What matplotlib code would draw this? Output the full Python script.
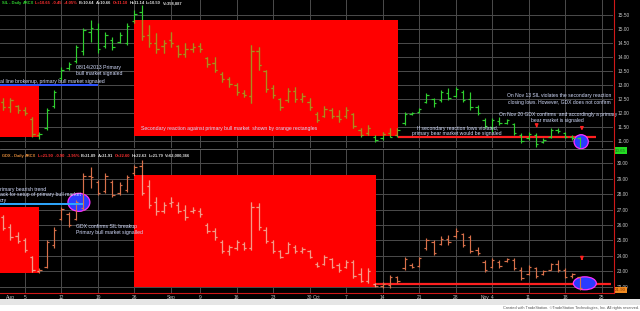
import numpy as np
import matplotlib.pyplot as plt
from matplotlib.patches import Rectangle, Ellipse
from matplotlib.lines import Line2D

plt.rcParams['font.family'] = ['Liberation Sans', 'DejaVu Sans']

# trading day index: 0 = Jul 31 2013 ... 79 = Nov 20 2013
sil_high = [12.54, 12.54, 12.29, 12.21, 11.86, 11.32, 12.18, 12.82, 13.64, 13.82,
            14.43, 15.04, 15.32, 15.21, 14.89, 14.71, 14.89, 15.21, 15.68, 15.86,
            15.14, 14.86, 14.61, 14.89, 14.43, 14.50, 14.50, 14.50, 14.00, 14.00,
            13.46, 13.29, 13.07, 12.82, 14.43, 14.36, 13.54, 13.00, 12.54, 12.89,
            12.93, 12.71, 12.54, 12.04, 12.25, 12.18, 12.11, 12.21, 12.00, 11.46,
            11.57, 11.21, 11.32, 11.46, 11.46, 12.04, 12.04, 12.18, 12.71, 12.54,
            12.82, 12.89, 12.93, 12.82, 12.75, 12.29, 11.82, 11.82, 11.86, 11.79,
            11.64, 11.29, 11.32, 11.29, 11.11, 11.46, 11.46, 11.32, 11.21, 11.14]
sil_low = [12.11, 12.04, 12.00, 11.93, 11.14, 11.07, 11.39, 12.18, 13.18, 13.54,
           13.79, 14.07, 14.54, 14.14, 14.32, 14.25, 14.50, 14.43, 15.21, 14.61,
           14.36, 14.14, 14.14, 14.36, 14.00, 14.00, 14.18, 14.18, 13.64, 13.46,
           13.11, 12.93, 12.64, 12.57, 12.36, 13.54, 12.75, 12.54, 12.11, 12.39,
           12.39, 12.39, 12.11, 11.68, 11.86, 11.82, 11.68, 11.82, 11.46, 11.14,
           11.21, 10.96, 11.04, 11.14, 11.14, 11.57, 11.93, 12.00, 12.36, 12.21,
           12.39, 12.46, 12.57, 12.39, 12.11, 11.93, 11.46, 11.32, 11.57, 11.61,
           11.21, 10.93, 11.04, 10.79, 10.93, 11.11, 11.29, 11.11, 11.04, 10.50]
sil_open = [12.40, 12.20, 12.25, 12.10, 11.80, 11.20, 11.45, 12.25, 13.25, 13.60,
            13.85, 14.20, 14.90, 15.00, 14.40, 14.60, 14.55, 14.50, 15.30, 15.60,
            14.80, 14.50, 14.40, 14.60, 14.40, 14.10, 14.30, 14.40, 13.95, 13.80,
            13.40, 13.20, 13.00, 12.70, 12.60, 14.20, 13.50, 12.90, 12.50, 12.45,
            12.80, 12.50, 12.40, 11.95, 11.90, 12.10, 11.90, 11.90, 11.95, 11.40,
            11.30, 11.15, 11.10, 11.30, 11.20, 11.65, 11.95, 12.05, 12.40, 12.50,
            12.45, 12.70, 12.60, 12.75, 12.50, 12.20, 11.75, 11.50, 11.70, 11.65,
            11.60, 11.20, 11.10, 11.20, 10.95, 11.15, 11.40, 11.30, 11.15, 11.10]
sil_close = [12.20, 12.45, 12.10, 12.00, 11.25, 11.25, 12.10, 12.75, 13.55, 13.75,
             14.35, 14.95, 15.05, 14.30, 14.80, 14.35, 14.80, 15.10, 15.55, 14.75,
             14.50, 14.30, 14.50, 14.50, 14.10, 14.30, 14.35, 14.30, 13.75, 13.55,
             13.20, 13.05, 12.75, 12.65, 14.20, 13.70, 12.85, 12.65, 12.20, 12.80,
             12.50, 12.60, 12.20, 11.75, 12.15, 11.90, 11.80, 12.10, 11.55, 11.20,
             11.45, 11.05, 11.25, 11.14, 11.40, 11.95, 12.00, 12.15, 12.65, 12.35,
             12.75, 12.55, 12.85, 12.45, 12.20, 12.00, 11.55, 11.75, 11.65, 11.75,
             11.30, 11.00, 11.25, 10.90, 11.05, 11.40, 11.35, 11.15, 11.10, 10.65]

gdx_high = [26.65, 26.07, 25.55, 25.16, 23.99, 23.21, 25.03, 25.87, 27.17, 26.84,
            27.62, 29.37, 29.77, 28.92, 29.37, 28.92, 28.79, 29.24, 29.90, 30.22,
            28.92, 27.82, 27.49, 27.82, 27.49, 27.30, 27.17, 27.10, 26.13, 25.81,
            25.03, 24.70, 25.03, 24.90, 27.49, 27.43, 25.87, 25.03, 24.38, 24.90,
            24.70, 24.57, 24.38, 23.60, 24.06, 23.86, 23.54, 23.73, 23.73, 23.21,
            23.21, 22.24, 22.30, 22.76, 22.69, 23.93, 23.54, 23.93, 25.16, 25.03,
            25.29, 25.35, 25.81, 25.48, 25.35, 24.57, 23.73, 23.86, 23.73, 23.86,
            23.86, 23.28, 23.41, 23.28, 23.08, 23.54, 23.73, 23.21, 22.89, 22.63]
gdx_low = [25.68, 25.03, 24.83, 24.25, 22.95, 22.89, 23.21, 24.51, 26.33, 25.87,
           26.33, 26.97, 28.40, 27.95, 28.08, 27.82, 27.95, 28.14, 29.24, 27.95,
           27.10, 26.65, 26.78, 27.17, 26.78, 26.33, 26.78, 26.52, 25.48, 25.03,
           24.19, 24.06, 24.38, 24.38, 24.38, 25.68, 24.83, 24.19, 23.86, 24.19,
           24.19, 24.19, 23.86, 23.28, 23.41, 23.21, 22.95, 23.21, 22.56, 22.30,
           22.24, 21.98, 21.92, 21.92, 22.24, 23.08, 23.21, 23.28, 24.38, 24.06,
           24.70, 24.70, 25.16, 24.57, 24.19, 24.06, 22.95, 23.21, 23.21, 23.60,
           23.08, 22.43, 22.76, 22.56, 22.76, 23.08, 22.95, 22.56, 22.56, 21.79]
gdx_open = [26.50, 25.90, 25.30, 25.00, 23.90, 23.00, 23.30, 24.70, 26.40, 26.70,
            26.40, 27.10, 29.20, 28.80, 28.20, 28.80, 28.10, 28.30, 29.40, 29.80,
            28.50, 27.50, 26.90, 27.40, 27.30, 27.00, 26.90, 26.90, 26.00, 25.60,
            24.90, 24.30, 24.50, 24.80, 24.50, 27.20, 25.70, 24.90, 24.30, 24.20,
            24.60, 24.30, 24.30, 23.50, 23.50, 23.80, 23.40, 23.25, 23.60, 22.80,
            22.40, 22.20, 22.05, 22.10, 22.60, 23.20, 23.40, 23.35, 24.50, 24.90,
            24.80, 25.10, 25.30, 25.40, 25.20, 24.40, 23.60, 23.30, 23.60, 23.65,
            23.75, 23.10, 22.80, 23.20, 22.80, 23.10, 23.50, 23.10, 22.70, 22.60]
gdx_close = [25.80, 25.20, 24.95, 24.40, 23.05, 23.10, 24.90, 25.70, 27.05, 26.00,
             27.50, 29.20, 29.10, 28.10, 29.20, 27.95, 28.60, 29.10, 29.75, 28.10,
             27.30, 26.90, 27.30, 27.50, 26.90, 26.50, 27.00, 26.70, 25.60, 25.20,
             24.30, 24.55, 24.90, 24.50, 27.20, 25.90, 24.95, 24.30, 23.95, 24.80,
             24.30, 24.45, 23.95, 23.35, 23.95, 23.30, 23.05, 23.60, 22.70, 22.40,
             23.00, 22.05, 22.16, 22.60, 22.40, 23.80, 23.30, 23.85, 25.05, 24.20,
             25.10, 24.90, 25.60, 24.70, 24.30, 24.20, 23.10, 23.75, 23.35, 23.80,
             23.20, 22.55, 23.30, 22.70, 23.00, 23.45, 23.05, 22.65, 22.80, 21.90]

week_starts = [3, 8, 13, 18, 23, 27, 32, 37, 42, 47, 52, 57, 62, 67, 72, 77, 82]
date_ticks = [1, 3, 8, 13, 18, 23, 27, 32, 37, 42, 43, 47, 52, 57, 62, 66, 67, 72, 77, 82]
date_labels = ['Aug', '5', '12', '19', '26', 'Sep', '9', '16', '23', '30', 'Oct',
               '7', '14', '21', '28', 'Nov', '4', '11', '18', '25']

sil_ticks = [11.0, 11.5, 12.0, 12.5, 13.0, 13.5, 14.0, 14.5, 15.0, 15.5]
gdx_ticks = [22, 23, 24, 25, 26, 27, 28, 29, 30]

# secondary reaction boxes: (first day, last day, low, high)
sil_boxes = [(-0.6, 4.93, 11.14, 13.0), (17.95, 54.1, 11.18, 15.32)]
gdx_boxes = [(-0.6, 4.93, 22.89, 27.17), (17.95, 51.1, 22.0, 29.24)]
sil_low_close = 11.14
gdx_low_close = 22.16

TXT = '#d4ddff'
GRID = '#4c4c4c'

fig = plt.figure(figsize=(6.4, 3.11), dpi=100, facecolor='black')
ax1 = fig.add_axes([0, 163 / 311, 613 / 640, 148 / 311])
ax2 = fig.add_axes([0, 18 / 311, 613 / 640, 143 / 311])


def draw_panel(ax, o, h, l, c, col, col_box, boxes, ylim, yticks):
    ax.set_facecolor('black')
    ax.set_xlim(-0.41, 83.56)
    ax.set_ylim(*ylim)
    for w in week_starts:
        ax.axvline(w, color=GRID, lw=0.7, zorder=0)
    for t in yticks:
        ax.axhline(t, color=GRID, lw=0.7, zorder=0)
    x = np.arange(len(h))
    rects = []
    for x0, x1, lo, hi in boxes:
        r = Rectangle((x0, lo), x1 - x0, hi - lo, facecolor='#ff0000',
                      edgecolor='none', zorder=1)
        ax.add_patch(r)
        rects.append(r)

    def bars(color, z, clip=None):
        lcs = [ax.vlines(x, l, h, color=color, lw=0.85, zorder=z),
               ax.hlines(o, x - 0.32, x, color=color, lw=0.85, zorder=z),
               ax.hlines(c, x, x + 0.32, color=color, lw=0.85, zorder=z)]
        if clip is not None:
            for lc in lcs:
                lc.set_clip_path(clip)
    bars(col, 4)
    for r in rects:
        bars(col_box, 5, r)
    for s in ax.spines.values():
        s.set_visible(False)
    ax.yaxis.tick_right()
    ax.set_yticks(yticks)
    ax.set_yticklabels([f'{t:.2f}' for t in yticks])
    ax.tick_params(axis='y', length=0, pad=3, labelsize=3.4, labelcolor='#c8c8c8')


draw_panel(ax1, sil_open, sil_high, sil_low, sil_close, '#2fd02f', '#b08a1c',
           sil_boxes, (10.75, 16.036), sil_ticks)
draw_panel(ax2, gdx_open, gdx_high, gdx_low, gdx_close, '#d8704a', '#f49a8a',
           gdx_boxes, (21.59, 30.865), gdx_ticks)

ax1.set_xticks([])
ax2.set_xticks(date_ticks)
ax2.set_xticklabels(date_labels)
ax2.tick_params(axis='x', length=0, pad=1.2, labelsize=3.5, labelcolor='#c8c8c8')


def header(ax, pieces, y):
    t = ax.text(0.003, y, pieces[0][0], color=pieces[0][1], transform=ax.transAxes,
                fontsize=2.9, fontweight='bold', va='top', ha='left', zorder=10)
    for s, col in pieces[1:]:
        t = ax.annotate(s, xy=(1, 0), xycoords=t, xytext=(1.1, 0),
                        textcoords='offset points', color=col, fontsize=2.9,
                        fontweight='bold', va='bottom', ha='left', zorder=10)


def quote(name, o, h, l, c, col, vol):
    chg = c[-1] - c[-2]
    return [(f'{name} - Daily', col), ('ARCX', col),
            (f'L={c[-1]:.2f}  {chg:+.2f}  {chg / c[-2] * 100:+.2f}%', '#ff3030'),
            (f'B={c[-1] - 0.01:.2f}', '#e0e0e0'), (f'A={c[-1] + 0.01:.2f}', '#e0e0e0'),
            (f'O={o[-1]:.2f}', '#ff3030'),
            (f'H={h[-1]:.2f}', '#e0e0e0'), (f'L={l[-1]:.2f}', '#e0e0e0'),
            (f'V={vol}', '#e0e0e0')]


header(ax1, quote('SIL', sil_open, sil_high, sil_low, sil_close, '#2fd02f', '358,887'), 0.99)
header(ax2, quote('GDX', gdx_open, gdx_high, gdx_low, gdx_close, '#e08a3a', '62,000,366'), 0.975)

# last price boxes on the price scale (hang just below the last close)
ax1.text(1.003, sil_close[-1], f'{sil_close[-1]:.2f}', transform=ax1.get_yaxis_transform(),
         fontsize=3.2, color='#206020', va='center', ha='left', clip_on=False, zorder=10,
         bbox=dict(boxstyle='square,pad=0.3', facecolor='#22dd22', edgecolor='none'))
ax2.text(1.003, gdx_close[-1], f'{gdx_close[-1]:.2f}', transform=ax2.get_yaxis_transform(),
         fontsize=3.2, color='#803000', va='top', ha='left', clip_on=False, zorder=10,
         bbox=dict(boxstyle='square,pad=0.25', facecolor='#f08a20', edgecolor='none'))

# closing-low lines of the secondary reaction
ax1.hlines(sil_low_close, 54.1, 81.2, color='#ff2020', lw=1.6, zorder=3)
ax2.hlines(gdx_low_close, 51.1, 83.3, color='#ff2020', lw=1.6, zorder=3)

# breakout lines
ax1.hlines(13.0, -0.5, 13.0, color='#2f55ff', lw=1.4, zorder=6)
ax2.hlines(27.34, -0.5, 10.96, color='#2fa8ff', lw=1.4, zorder=6)

# circles
for ax, cx, cy, w, hh in [(ax1, 79.2, 10.975, 1.95, 0.5),
                          (ax2, 10.4, 27.47, 3.0, 1.17),
                          (ax2, 79.7, 22.22, 3.15, 0.84)]:
    ax.add_patch(Ellipse((cx, cy), w, hh, facecolor='#2a3cff', edgecolor='#ff30ff',
                         lw=0.9, zorder=3, clip_on=False))

# red arrows
arrow = dict(arrowstyle='-|>', color='#ff2020', lw=1.0, mutation_scale=4.5)
ax1.annotate('', xy=(73.1, 11.37), xytext=(73.1, 11.63), arrowprops=arrow, zorder=7)
ax1.annotate('', xy=(79.3, 11.27), xytext=(79.3, 11.58), arrowprops=arrow, zorder=7)
ax2.annotate('', xy=(79.3, 23.52), xytext=(79.3, 24.02), arrowprops=arrow, zorder=7)

fs = 3.7
ax1.text(-0.4, 13.04, 'al line brokenup, primary bull market signaled', color=TXT,
         fontsize=fs, ha='left', va='bottom', zorder=8)
ax1.text(10.0, 13.52, '08/14/2013 Primary\nbull market signaled', color=TXT,
         fontsize=fs, ha='left', va='center', linespacing=1.25, zorder=8)
ax1.text(18.9, 11.46, 'Secondary reaction against primary bull market  shown by orange rectangles',
         color=TXT, fontsize=fs, ha='left', va='center', zorder=8)
ax1.text(62.2, 11.36, 'If secondary reaction lows violated,\nprimary bear market would be signaled',
         color=TXT, fontsize=fs, ha='center', va='center', linespacing=1.1, zorder=8)
ax1.text(76.2, 12.5, 'On Nov 13 SIL violates the secondary reaction\nclosing lows. However, GDX does not confirm',
         color=TXT, fontsize=3.6, ha='center', va='center', linespacing=1.5, zorder=8)
ax1.text(76.0, 11.84, 'On Nov 20 GDX confirms  and accordingly a primary\nbear market is signaled',
         color=TXT, fontsize=3.6, ha='center', va='center', linespacing=1.25, zorder=8)

ax2.text(-0.4, 27.95, 'rimary bearish trend\nack for setup of primary bull market\nory',
         color=TXT, fontsize=fs, ha='left', va='center', linespacing=1.2, zorder=8)
ax2.text(10.0, 25.71, 'GDX confirms SIL breakup\nPrimary bull market signalled',
         color=TXT, fontsize=fs, ha='left', va='center', linespacing=1.4, zorder=8)

# frame lines, panel separator and status strip
fig.add_artist(Line2D([613.5 / 640] * 2, [18 / 311, 1], color='#d01818', lw=0.8))
fig.add_artist(Line2D([0, 613.5 / 640], [18 / 311] * 2, color='#d01818', lw=0.8))
fig.add_artist(Line2D([0, 613 / 640], [162 / 311] * 2, color='#707070', lw=0.6))
fig.add_artist(Rectangle((0, 0), 1, 12 / 311, transform=fig.transFigure,
                         facecolor='#e6e6e6', edgecolor='none'))
fig.add_artist(Rectangle((0, 0), 1, 6 / 311, transform=fig.transFigure,
                         facecolor='white', edgecolor='none'))
fig.text(0.998, 2.5 / 311, 'Created with TradeStation. \u00a9TradeStation Technologies, Inc. All rights reserved.',
         fontsize=2.8, color='#555555', ha='right', va='center')

fig.savefig('out.png', dpi=100, facecolor='black')
